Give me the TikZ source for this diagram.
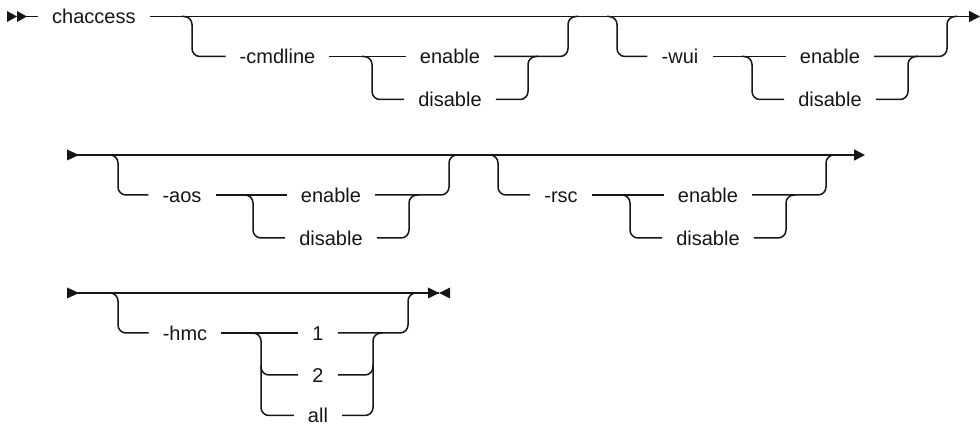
\documentclass[tikz,border=0pt]{standalone}
\usepackage{fontspec}
\setmainfont{Liberation Sans}
\usetikzlibrary{arrows.meta}
\definecolor{Ink}{RGB}{22,22,22}
\tikzset{
  rail/.style={draw=Ink,line width=1.5pt,rounded corners=8pt},
  kw/.style={text=Ink,font=\fontsize{20}{24}\selectfont,inner xsep=14pt,
             inner ysep=0pt,text height=15pt,text depth=0pt},
  tip/.style={-{Triangle[length=11pt,width=11pt]}},
}
% optional keyword followed by enable | disable
% #1 prefix, #2 row y, #3 left x, #4 keyword, #5 keyword x,
% #6 split x, #7 inner merge x, #8 outer merge x
\newcommand{\togglegroup}[8]{%
  \coordinate (#1L) at (#3,#2);
  \node[kw] (#1opt) at (#5,#2+40) {#4};
  \coordinate (#1s) at (#6,#2+40);
  \coordinate (#1m) at (#7,#2+40);
  \coordinate (#1M) at (#8,#2);
  \node[kw] (#1en) at ({(#6+#7)/2},#2+40) {enable};
  \node[kw] (#1dis) at ({(#6+#7)/2},#2+83) {disable};
  \draw[rail] ([xshift=-10pt]#1L) -- (#1L) |- (#1opt.west);
  \draw[rail] (#1opt) -- (#1en);
  \draw[rail] ([xshift=-10pt]#1s) -- (#1s) |- (#1dis.west);
  \draw[rail] (#1en.east) -| (#1M) -- ([xshift=10pt]#1M);
  \draw[rail] (#1dis.east) -| (#1m) -- ([xshift=10pt]#1m);
}

\begin{document}
\begin{tikzpicture}[x=1pt,y=-1pt]
  \useasboundingbox (0,0) rectangle (980,427);

  % first line
  \coordinate (start1) at (17,16.5);
  \coordinate (end1) at (980,16.5);
  \fill[Ink] (7,11) -- (17,16.5) -- (7,22) -- cycle
             (17,11) -- (27,16.5) -- (17,22) -- cycle;
  \node[kw,anchor=west] (chaccess) at (38,16.5) {chaccess};
  \draw[rail] (start1) -- (chaccess.west);
  \draw[rail,tip] (chaccess.east) -- (end1);
  \togglegroup{a}{16.5}{192}{-cmdline}{277.5}{372}{528}{568}
  \togglegroup{b}{16.5}{617}{-wui}{680}{752}{908}{947}

  % second line
  \coordinate (start2) at (67,155);
  \coordinate (end2) at (865,155);
  \fill[Ink] (67,149.5) -- (79,155) -- (67,160.5) -- cycle;
  \draw[rail,tip] (start2) -- (end2);
  \togglegroup{c}{155}{118}{-aos}{182}{253}{409}{449}
  \togglegroup{d}{155}{498}{-rsc}{561}{630}{786}{826}

  % third line
  \coordinate (start3) at (67,293);
  \coordinate (end3) at (439,293);
  \fill[Ink] (67,287.5) -- (79,293) -- (67,298.5) -- cycle
             (428,287.5) -- (439,293) -- (428,298.5) -- cycle
             (450,287.5) -- (439,293) -- (450,298.5) -- cycle;
  \draw[rail] (start3) -- (end3);
  \coordinate (eL) at (118,293);
  \coordinate (es) at (261,333);
  \coordinate (esb) at (261,375);
  \coordinate (em) at (373,333);
  \coordinate (emb) at (373,375);
  \coordinate (eM) at (408,293);
  \node[kw] (hmc) at (185,333) {-hmc};
  \node[kw] (one) at (318,333) {1};
  \node[kw] (two) at (318,375) {2};
  \node[kw] (all) at (318,415.5) {all};
  \draw[rail] ([xshift=-10pt]eL) -- (eL) |- (hmc.west);
  \draw[rail] (hmc) -- (one);
  \draw[rail] ([xshift=-10pt]es) -- (es) |- (all.west);
  \draw[rail] ([yshift=10pt]esb) -- (esb) -- (two.west);
  \draw[rail] (one.east) -| (eM) -- ([xshift=10pt]eM);
  \draw[rail] (all.east) -| (em) -- ([xshift=10pt]em);
  \draw[rail] (two.east) -- (emb) -- ([yshift=10pt]emb);
\end{tikzpicture}
\end{document}
